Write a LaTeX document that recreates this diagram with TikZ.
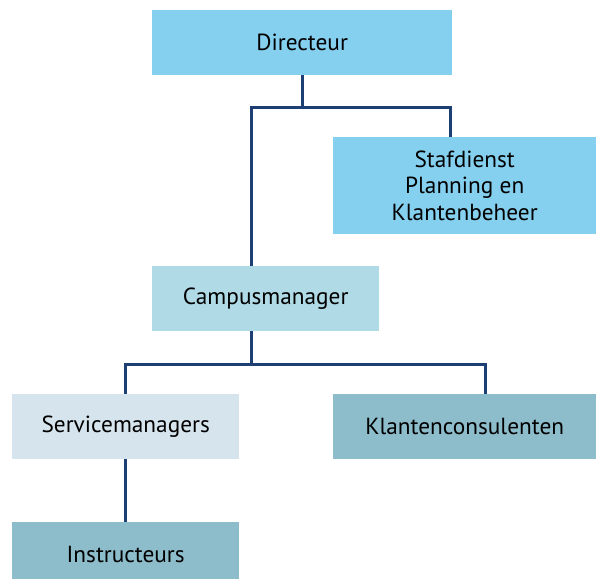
\documentclass[tikz,border=0pt]{standalone}
\usepackage{fontspec}
\setmainfont{PT Sans}
\usetikzlibrary{positioning,calc}
\definecolor{skyblue}{HTML}{85CFEF}
\definecolor{paleblue}{HTML}{B0DAE6}
\definecolor{mistblue}{HTML}{D6E5ED}
\definecolor{greyblue}{HTML}{8DBCCB}
\definecolor{navy}{HTML}{1E3F73}
\tikzset{
  unit/.style={anchor=north west, inner sep=0pt, align=center,
               minimum width=227pt, minimum height=65pt,
               font=\fontsize{23.3}{26.5}\selectfont},
  link/.style={navy, line width=2.6pt},
}
\begin{document}
\begin{tikzpicture}[x=1pt,y=-1pt]
  \useasboundingbox (0,0) rectangle (596,578);
  \node[unit, fill=skyblue, minimum width=300pt] (dir) at (152,10) {Directeur};
  \node[unit, fill=skyblue, minimum width=263pt, minimum height=97pt] (staf) at (333,137)
       {Stafdienst\\Planning en\\Klantenbeheer};
  \node[unit, fill=paleblue] (camp) at (152,266) {Campusmanager};
  \node[unit, fill=mistblue] (serv) at (12,394) {Servicemanagers};
  \node[unit, fill=greyblue, minimum width=263pt] (klant) at (333,394) {Klantenconsulenten};
  \node[unit, fill=greyblue] (instr) at (12,522) {Instructeurs};
  % connectors
  \coordinate (fork1) at ($(dir.south)+(0,32)$);
  \coordinate (fork2) at ($([xshift=-14pt]camp.south)+(0,33)$);
  \draw[link] (dir.south) -- (fork1);
  \draw[link] ([xshift=-14.5pt]camp.north) |- (fork1) -| ([xshift=-14.5pt]staf.north);
  \draw[link] ([xshift=-14pt]camp.south) -- (fork2);
  \draw[link] (serv.north) |- (fork2) -| ([xshift=20.5pt]klant.north);
  \draw[link] (serv.south) -- (instr.north);
\end{tikzpicture}
\end{document}
